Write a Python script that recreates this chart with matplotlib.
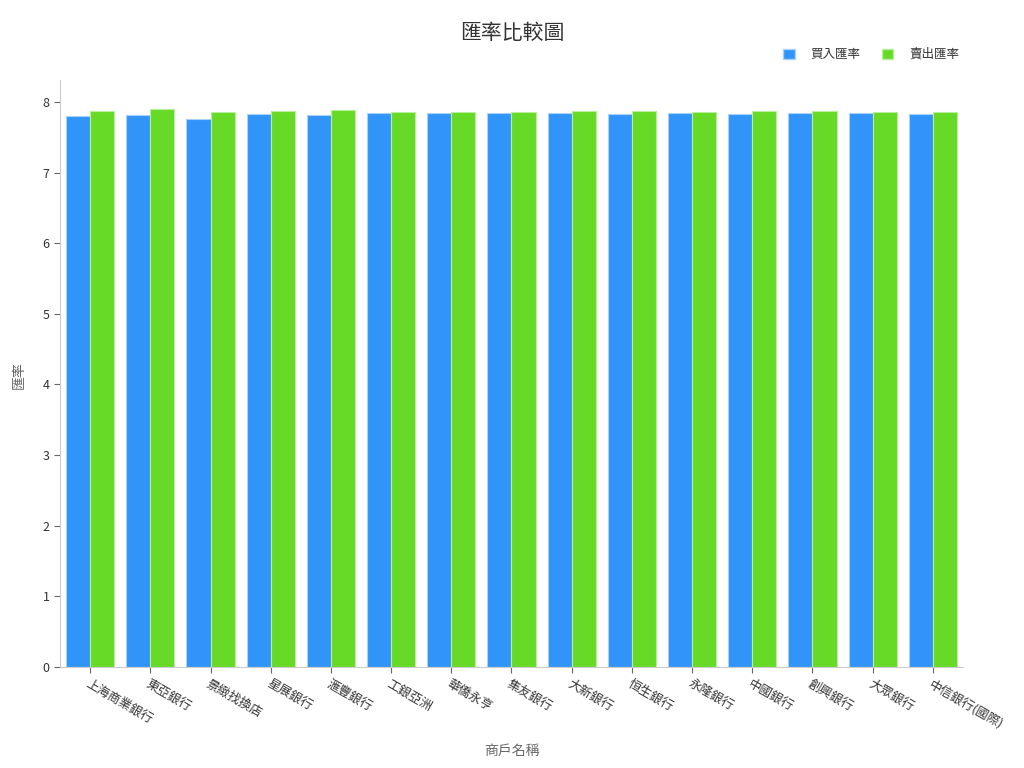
import matplotlib.pyplot as plt
import numpy as np
from matplotlib.patches import Patch

plt.rcParams['font.family'] = ['Noto Sans CJK TC', 'DejaVu Sans']

# 商戶名稱
merchants = ['上海商業銀行', '東亞銀行', '景緻找換店', '星展銀行', '滙豐銀行',
             '工銀亞洲', '華僑永亨', '集友銀行', '大新銀行', '恒生銀行',
             '永隆銀行', '中國銀行', '創興銀行', '大眾銀行', '中信銀行(國際)']

# 買入 / 賣出匯率
buy_rates = [7.795, 7.82, 7.757, 7.826, 7.82, 7.84, 7.84, 7.84,
             7.84, 7.825, 7.84, 7.825, 7.84, 7.845, 7.83]
sell_rates = [7.87, 7.895, 7.857, 7.875, 7.88, 7.86, 7.86, 7.86,
              7.865, 7.875, 7.86, 7.875, 7.865, 7.857, 7.86]

blue = '#3094f8'
green = '#66da26'


def draw_chart():
    fig = plt.figure(figsize=(10.24, 7.68), dpi=100)
    ax = fig.add_axes([0.0586, 0.1315, 0.8818, 0.7643])

    x = np.arange(len(merchants))
    w = 0.4
    ax.bar(x - w / 2, buy_rates, w, color=blue, edgecolor='#a8d2fb', linewidth=0.8)
    ax.bar(x + w / 2, sell_rates, w, color=green, edgecolor='#b8ef9a', linewidth=0.8)

    ax.set_xlim(-0.5, len(merchants) - 0.5)
    ax.set_ylim(0, 8.31)
    ax.set_yticks(range(0, 9))

    ax.set_xticks(x)
    ax.set_xticklabels(merchants, rotation=-30, ha='left', rotation_mode='anchor',
                       fontsize=9, color='#333333')
    ax.tick_params(axis='y', labelsize=9, labelcolor='#333333', color='#666666', length=4)
    ax.tick_params(axis='x', color='#666666', length=4)

    for side in ['top', 'right']:
        ax.spines[side].set_visible(False)
    for side in ['left', 'bottom']:
        ax.spines[side].set_color('#cccccc')

    fig.text(0.5, 0.957, '匯率比較圖', ha='center', va='center', fontsize=15, color='#333333')
    fig.text(0.5, 0.023, '商戶名稱', ha='center', va='center', fontsize=10, color='#666666')
    fig.text(0.018, 0.512, '匯率', ha='center', va='center', rotation=90,
             fontsize=10, color='#666666')

    handles = [Patch(facecolor=blue, edgecolor='#a8d2fb'),
               Patch(facecolor=green, edgecolor='#b8ef9a')]
    fig.legend(handles, ['買入匯率', '賣出匯率'], loc='center right',
               bbox_to_anchor=(0.948, 0.929), ncol=2, frameon=False, fontsize=9,
               handlelength=0.9, handleheight=0.9, handletextpad=1.3, columnspacing=1.7,
               labelcolor='#333333')

    fig.savefig('out.png', dpi=100)


if __name__ == '__main__':
    draw_chart()
